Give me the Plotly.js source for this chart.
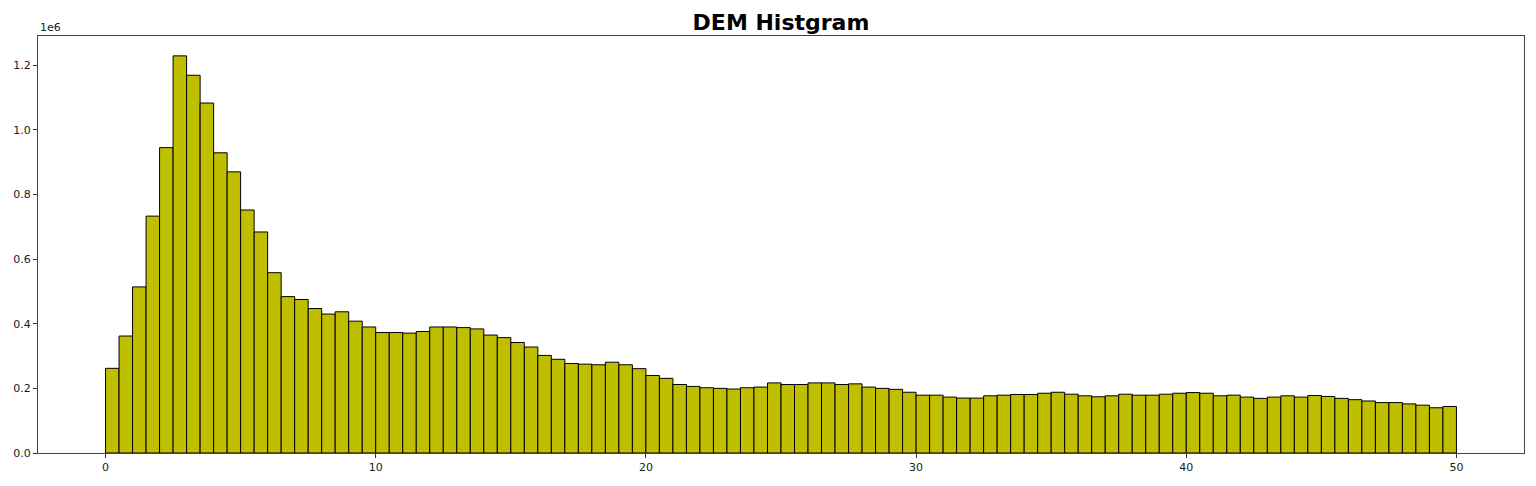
<!DOCTYPE html>
<html>
<head>
<meta charset="utf-8">
<script src="https://cdn.plot.ly/plotly-3.0.1.min.js"></script>
<style>
  html, body { margin: 0; padding: 0; background: #fff; }
  #chart { width: 1536px; height: 486px; }
</style>
</head>
<body>
<div id="chart"></div>
<script>
// Histogram bins: 100 bins of width 0.5 from 0 to 50
var binStart = 0;
var binWidth = 0.5;
var counts = [
  262000, 362000, 514000, 733000, 945000, 1229000, 1169000, 1083000, 929000, 870000,
  752000, 684000, 558000, 484000, 475000, 447000, 430000, 437000, 408000, 390000,
  373000, 373000, 371000, 376000, 390000, 390000, 388000, 384000, 365000, 357000,
  342000, 328000, 302000, 290000, 277000, 275000, 273000, 281000, 273000, 261000,
  240000, 231000, 212000, 206000, 202000, 200000, 198000, 202000, 204000, 217000,
  212000, 212000, 217000, 217000, 212000, 214000, 204000, 200000, 197000, 188000,
  179000, 179000, 173000, 170000, 170000, 177000, 179000, 181000, 181000, 185000,
  188000, 182000, 177000, 174000, 177000, 182000, 179000, 179000, 182000, 185000,
  187000, 185000, 177000, 179000, 173000, 169000, 173000, 177000, 173000, 178000,
  175000, 169000, 165000, 161000, 156000, 156000, 152000, 148000, 140000, 144000
];
var xTickVals = [0, 10, 20, 30, 40, 50];
var xTickText = ['0', '10', '20', '30', '40', '50'];
var yTickVals = [0, 200000, 400000, 600000, 800000, 1000000, 1200000];
var yTickText = ['0.0', '0.2', '0.4', '0.6', '0.8', '1.0', '1.2'];
var titleText = 'DEM Histgram';
var offsetText = '1e6';

var centers = counts.map(function (c, i) { return binStart + binWidth * (i + 0.5); });

var trace = {
  type: 'bar',
  x: centers,
  y: counts,
  width: binWidth,
  marker: { color: '#bfbf00', line: { color: '#000000', width: 1 } },
  hoverinfo: 'x+y'
};

var font = 'DejaVu Sans, sans-serif';
var layout = {
  width: 1536,
  height: 486,
  margin: { l: 38, r: 12, t: 36, b: 33, pad: 0 },
  paper_bgcolor: '#ffffff',
  plot_bgcolor: '#ffffff',
  showlegend: false,
  bargap: 0,
  font: { family: font, size: 11, color: '#1a1a1a' },
  title: {
    text: '<b>' + titleText + '</b>',
    font: { family: font, size: 22, color: '#000000' },
    x: 0.5, xref: 'paper', xanchor: 'center',
    y: 1 - 22 / 486, yref: 'container', yanchor: 'middle'
  },
  xaxis: {
    range: [-2.5, 52.5],
    tickvals: xTickVals,
    ticktext: xTickText,
    ticks: 'outside', ticklen: 4, tickwidth: 1, tickcolor: '#333333',
    showline: true, linecolor: '#444444', linewidth: 1, mirror: true,
    showgrid: false, zeroline: false,
    tickfont: { family: font, size: 11, color: '#1a1a1a' }
  },
  yaxis: {
    range: [0, 1290450],
    tickvals: yTickVals,
    ticktext: yTickText,
    ticks: 'outside', ticklen: 4, tickwidth: 1, tickcolor: '#333333',
    showline: true, linecolor: '#444444', linewidth: 1, mirror: true,
    showgrid: false, zeroline: false,
    tickfont: { family: font, size: 11, color: '#1a1a1a' }
  },
  annotations: [{
    text: offsetText,
    xref: 'paper', yref: 'paper', x: 0, y: 1,
    xanchor: 'left', yanchor: 'bottom', yshift: 0,
    showarrow: false,
    font: { family: font, size: 11, color: '#1a1a1a' }
  }]
};

Plotly.newPlot('chart', [trace], layout, { displayModeBar: false, staticPlot: true });
</script>
</body>
</html>
